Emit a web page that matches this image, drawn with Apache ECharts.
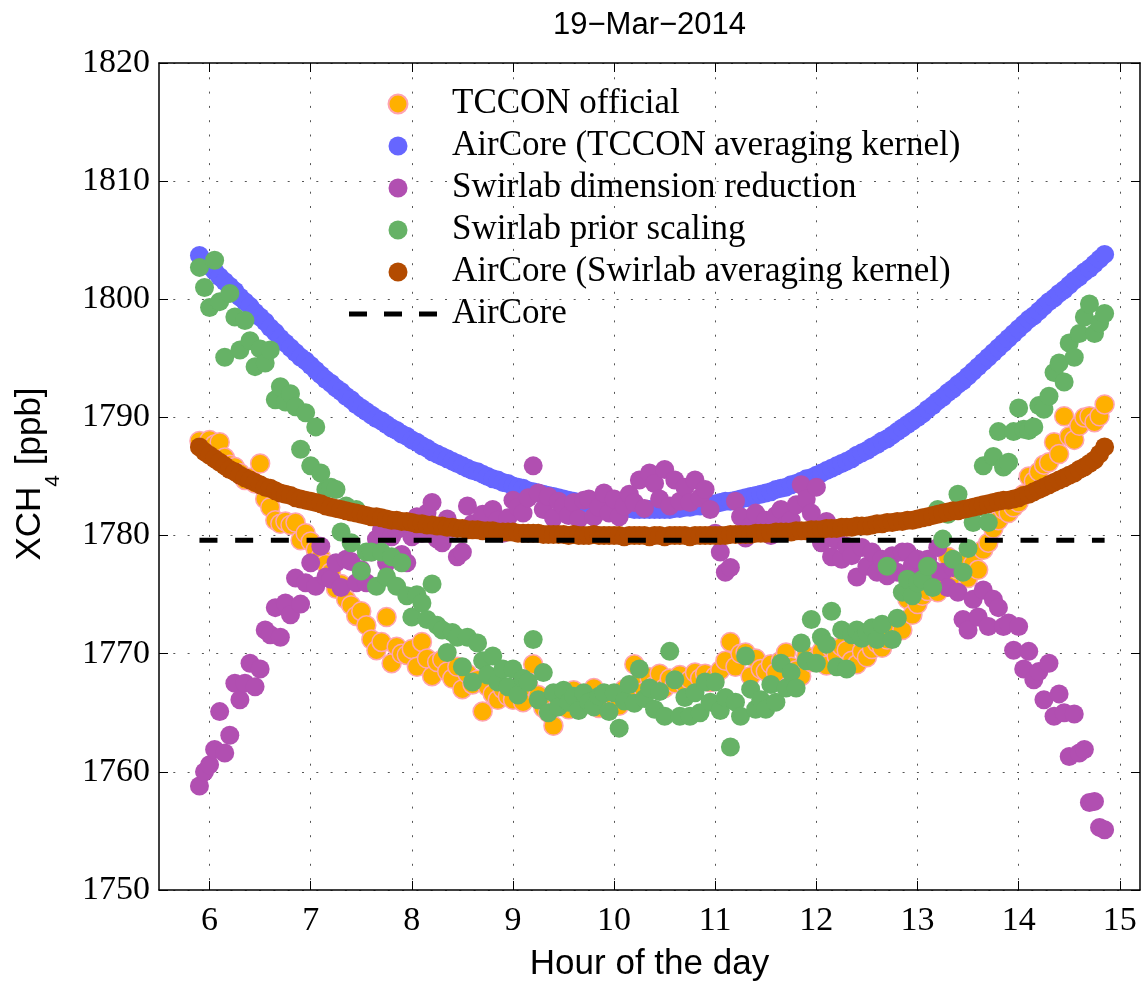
<!DOCTYPE html>
<html>
<head>
<meta charset="utf-8">
<title>19−Mar−2014 XCH4</title>
<script src="https://cdn.jsdelivr.net/npm/echarts@6/dist/echarts.min.js"></script>
<style>
  html, body { margin: 0; padding: 0; background: #fff; }
  #chart { width: 1144px; height: 985px; }
</style>
</head>
<body>
<div id="chart"></div>
<script>
// Measurement times (hour of the day), one row per half hour
const hours = [
  5.90, 5.95, 6.00, 6.05, 6.10, 6.15, 6.20, 6.25, 6.30, 6.35,
  6.40, 6.45, 6.50, 6.55, 6.60, 6.65, 6.70, 6.75, 6.80, 6.85,
  6.90, 6.95, 7.00, 7.05, 7.10, 7.15, 7.20, 7.25, 7.30, 7.35,
  7.40, 7.45, 7.50, 7.55, 7.60, 7.65, 7.70, 7.75, 7.80, 7.85,
  7.90, 7.95, 8.00, 8.05, 8.10, 8.15, 8.20, 8.25, 8.30, 8.35,
  8.40, 8.45, 8.50, 8.55, 8.60, 8.65, 8.70, 8.75, 8.80, 8.85,
  8.90, 8.95, 9.00, 9.05, 9.10, 9.15, 9.20, 9.25, 9.30, 9.35,
  9.40, 9.45, 9.50, 9.55, 9.60, 9.65, 9.70, 9.75, 9.80, 9.85,
  9.90, 9.95, 10.00, 10.05, 10.10, 10.15, 10.20, 10.25, 10.30, 10.35,
  10.40, 10.45, 10.50, 10.55, 10.60, 10.65, 10.70, 10.75, 10.80, 10.85,
  10.90, 10.95, 11.00, 11.05, 11.10, 11.15, 11.20, 11.25, 11.30, 11.35,
  11.40, 11.45, 11.50, 11.55, 11.60, 11.65, 11.70, 11.75, 11.80, 11.85,
  11.90, 11.95, 12.00, 12.05, 12.10, 12.15, 12.20, 12.25, 12.30, 12.35,
  12.40, 12.45, 12.50, 12.55, 12.60, 12.65, 12.70, 12.75, 12.80, 12.85,
  12.90, 12.95, 13.00, 13.05, 13.10, 13.15, 13.20, 13.25, 13.30, 13.35,
  13.40, 13.45, 13.50, 13.55, 13.60, 13.65, 13.70, 13.75, 13.80, 13.85,
  13.90, 13.95, 14.00, 14.05, 14.10, 14.15, 14.20, 14.25, 14.30, 14.35,
  14.40, 14.45, 14.50, 14.55, 14.60, 14.65, 14.70, 14.75, 14.80, 14.85
];

// XCH4 [ppb] per retrieval / smoothing
const tcconOfficial = [
  1788.0, 1787.6, 1788.1, 1787.7, 1787.9, 1786.6, 1786.0, 1785.8, 1785.3, 1784.7,
  1784.9, 1784.4, 1786.1, 1783.1, 1782.4, 1781.3, 1781.0, 1781.2, 1780.9, 1781.1,
  1779.6, 1780.2, 1779.5, 1778.8, 1778.2, 1777.6, 1776.9, 1775.5, 1775.9, 1774.6,
  1774.1, 1773.2, 1773.6, 1772.4, 1771.2, 1770.3, 1771.0, 1773.1, 1769.2, 1770.6,
  1770.0, 1769.9, 1770.4, 1768.9, 1771.0, 1769.6, 1768.1, 1769.3, 1769.5, 1768.5,
  1767.9, 1768.9, 1767.0, 1768.3, 1767.4, 1767.8, 1765.1, 1767.2, 1766.6, 1766.1,
  1767.0, 1766.4, 1766.1, 1766.8, 1765.9, 1767.3, 1769.1, 1766.5, 1765.4, 1765.0,
  1763.9, 1765.6, 1766.2, 1765.3, 1766.9, 1765.5, 1766.4, 1765.9, 1767.1, 1765.4,
  1766.6, 1765.8, 1766.3, 1765.6, 1767.0, 1766.4, 1769.1, 1767.6, 1766.8, 1768.0,
  1767.3, 1768.3, 1767.1, 1767.9, 1767.5, 1768.2, 1767.4, 1767.8, 1768.4, 1767.9,
  1768.3, 1767.6, 1768.1, 1768.6, 1769.4, 1771.0, 1768.9, 1770.0, 1770.1, 1768.1,
  1769.6, 1768.7, 1768.5, 1769.1, 1768.4, 1769.4, 1770.1, 1768.9, 1768.6, 1768.1,
  1769.8, 1769.3, 1769.6, 1770.2, 1769.0, 1770.5, 1769.8, 1770.6, 1770.3, 1769.4,
  1769.1, 1770.2, 1769.7, 1770.4, 1770.9, 1770.5, 1771.2, 1771.6, 1771.9, 1772.0,
  1774.6, 1773.3, 1774.2, 1774.9, 1775.3, 1775.8, 1775.2, 1776.0, 1778.2, 1776.6,
  1777.1, 1777.8, 1776.4, 1777.6, 1777.1, 1778.8, 1779.4, 1780.6, 1781.3, 1782.2,
  1781.9, 1782.4, 1782.8, 1783.5, 1785.0, 1784.6, 1785.4, 1786.0, 1786.2, 1787.9,
  1786.9, 1790.1, 1788.4, 1788.1, 1789.3, 1790.0, 1790.1, 1789.6, 1790.1, 1791.1
];

const airCoreTcconAk = [
  1803.7, 1803.2, 1802.8, 1802.4, 1801.9, 1801.5, 1801.1, 1800.7, 1800.2, 1799.8,
  1799.4, 1798.9, 1798.5, 1798.1, 1797.6, 1797.2, 1796.7, 1796.3, 1795.9, 1795.5,
  1795.1, 1794.8, 1794.4, 1794.0, 1793.6, 1793.2, 1792.9, 1792.5, 1792.2, 1791.8,
  1791.5, 1791.1, 1790.8, 1790.5, 1790.2, 1789.9, 1789.7, 1789.4, 1789.1, 1788.9,
  1788.6, 1788.4, 1788.1, 1787.9, 1787.6, 1787.4, 1787.1, 1786.9, 1786.7, 1786.5,
  1786.3, 1786.1, 1785.9, 1785.7, 1785.5, 1785.4, 1785.2, 1785.0, 1784.8, 1784.7,
  1784.5, 1784.4, 1784.2, 1784.1, 1784.0, 1783.8, 1783.7, 1783.6, 1783.5, 1783.4,
  1783.3, 1783.2, 1783.1, 1783.0, 1782.9, 1782.8, 1782.8, 1782.7, 1782.6, 1782.6,
  1782.5, 1782.5, 1782.4, 1782.4, 1782.3, 1782.3, 1782.2, 1782.2, 1782.2, 1782.2,
  1782.2, 1782.2, 1782.2, 1782.2, 1782.3, 1782.3, 1782.4, 1782.4, 1782.5, 1782.5,
  1782.6, 1782.6, 1782.7, 1782.8, 1782.9, 1782.9, 1783.0, 1783.1, 1783.2, 1783.3,
  1783.4, 1783.5, 1783.6, 1783.7, 1783.9, 1784.0, 1784.1, 1784.3, 1784.4, 1784.6,
  1784.8, 1784.9, 1785.1, 1785.3, 1785.5, 1785.7, 1785.9, 1786.1, 1786.3, 1786.5,
  1786.8, 1787.0, 1787.2, 1787.5, 1787.7, 1788.0, 1788.2, 1788.5, 1788.8, 1789.1,
  1789.4, 1789.7, 1790.0, 1790.3, 1790.7, 1791.0, 1791.4, 1791.7, 1792.1, 1792.4,
  1792.8, 1793.1, 1793.5, 1793.9, 1794.3, 1794.7, 1795.1, 1795.5, 1795.9, 1796.3,
  1796.7, 1797.1, 1797.5, 1797.9, 1798.3, 1798.6, 1799.0, 1799.4, 1799.8, 1800.1,
  1800.5, 1800.8, 1801.2, 1801.6, 1801.9, 1802.3, 1802.6, 1803.0, 1803.4, 1803.8
];

const swirlabDimReduction = [
  1758.8, 1760.0, 1760.6, 1761.9, 1765.1, 1761.6, 1763.1, 1767.5, 1766.1, 1767.5,
  1769.2, 1767.2, 1768.7, 1772.0, 1771.6, 1773.9, 1771.4, 1774.3, 1773.3, 1776.4,
  1774.2, 1776.0, 1777.7, 1775.7, 1779.1, 1776.5, 1776.3, 1777.7, 1775.6, 1778.0,
  1777.8, 1776.0, 1777.1, 1776.0, 1778.6, 1779.7, 1780.5, 1777.7, 1779.9, 1780.5,
  1778.4, 1777.7, 1779.9, 1781.6, 1780.2, 1781.9, 1782.8, 1779.7, 1779.4, 1781.4,
  1780.6, 1778.2, 1778.6, 1782.5, 1781.0, 1780.6, 1781.8, 1780.4, 1782.2, 1781.3,
  1780.2, 1781.5, 1783.0, 1782.4, 1781.9, 1783.2, 1785.9, 1783.6, 1782.2, 1783.3,
  1781.5, 1782.9, 1782.5, 1781.7, 1782.8, 1781.4, 1783.0, 1783.1, 1781.6, 1782.4,
  1783.6, 1781.9, 1783.1, 1781.6, 1782.5, 1783.5, 1782.8, 1784.7, 1782.3, 1785.3,
  1784.4, 1783.1, 1785.6, 1782.5, 1784.7, 1782.9, 1784.1, 1782.8, 1784.7, 1783.2,
  1783.9, 1782.2, 1780.2, 1778.6, 1776.9, 1777.3, 1782.9, 1781.6, 1779.8, 1780.8,
  1781.9, 1780.4, 1781.3, 1780.0, 1781.7, 1782.2, 1780.9, 1781.3, 1782.6, 1784.3,
  1783.1, 1781.9, 1784.1, 1779.4, 1781.2, 1778.2, 1779.6, 1778.0, 1779.1, 1778.3,
  1776.5, 1779.0, 1777.4, 1778.6, 1776.9, 1778.0, 1776.6, 1778.3, 1776.9, 1778.6,
  1778.6, 1777.5, 1778.0, 1776.3, 1778.0, 1777.1, 1779.0, 1776.9, 1775.6, 1777.3,
  1775.2, 1772.9, 1772.0, 1774.6, 1773.1, 1775.4, 1772.3, 1774.6, 1773.9, 1772.3,
  1772.6, 1770.3, 1772.3, 1768.7, 1770.2, 1767.8, 1768.5, 1766.1, 1769.2, 1764.7,
  1766.6, 1765.0, 1761.3, 1764.9, 1761.6, 1761.9, 1757.4, 1757.5, 1755.3, 1755.1
];

const swirlabPriorScaling = [
  1802.7, 1801.0, 1799.3, 1803.3, 1799.8, 1795.1, 1800.5, 1798.5, 1795.7, 1798.2,
  1796.5, 1794.3, 1795.8, 1794.6, 1795.7, 1791.5, 1792.6, 1791.3, 1792.0, 1790.9,
  1787.3, 1790.4, 1785.9, 1789.2, 1785.3, 1783.9, 1784.1, 1783.9, 1780.3, 1782.5,
  1779.4, 1782.2, 1777.0, 1778.6, 1778.6, 1775.7, 1778.6, 1776.5, 1778.2, 1775.7,
  1777.7, 1774.9, 1773.1, 1775.0, 1774.3, 1772.9, 1775.9, 1772.4, 1772.0, 1770.1,
  1771.8, 1771.4, 1768.9, 1771.4, 1767.6, 1770.9, 1769.4, 1768.2, 1769.8, 1767.6,
  1768.7, 1767.2, 1768.7, 1766.5, 1767.9, 1767.6, 1771.2, 1766.1, 1768.4, 1765.0,
  1766.7, 1765.5, 1766.9, 1765.9, 1766.4, 1765.2, 1766.7, 1765.9, 1765.5, 1766.4,
  1766.7, 1765.1, 1766.7, 1763.7, 1766.0, 1767.4, 1765.8, 1768.7, 1766.2, 1767.1,
  1765.3, 1766.8, 1764.7, 1770.2, 1767.8, 1764.7, 1766.3, 1764.7, 1766.7, 1765.0,
  1767.6, 1765.9, 1767.6, 1765.2, 1766.3, 1762.1, 1765.9, 1764.7, 1769.8, 1767.0,
  1765.3, 1766.1, 1765.3, 1767.4, 1765.9, 1769.2, 1767.1, 1768.4, 1767.1, 1770.9,
  1769.4, 1772.9, 1769.2, 1771.4, 1770.8, 1773.6, 1768.9, 1772.0, 1768.7, 1771.6,
  1772.0, 1771.3, 1771.8, 1772.2, 1771.2, 1772.5, 1777.4, 1771.2, 1773.0, 1775.2,
  1776.3, 1774.9, 1776.0, 1776.3, 1777.4, 1775.6, 1782.2, 1779.7, 1781.8, 1778.0,
  1783.5, 1776.9, 1778.9, 1781.1, 1782.4, 1785.9, 1781.1, 1786.7, 1788.8, 1785.8,
  1786.2, 1788.8, 1790.8, 1789.0, 1788.9, 1789.2, 1791.0, 1790.7, 1791.8, 1793.8,
  1794.6, 1793.0, 1796.3, 1795.1, 1797.1, 1798.5, 1799.6, 1797.1, 1798.0, 1798.8
];

const airCoreSwirlabAk = [
  1787.5, 1787.1, 1786.8, 1786.5, 1786.2, 1785.9, 1785.6, 1785.4, 1785.1, 1784.9,
  1784.7, 1784.5, 1784.3, 1784.1, 1784.0, 1783.8, 1783.6, 1783.5, 1783.4, 1783.2,
  1783.1, 1783.0, 1782.9, 1782.8, 1782.7, 1782.5, 1782.4, 1782.3, 1782.2, 1782.1,
  1782.0, 1781.9, 1781.8, 1781.7, 1781.6, 1781.6, 1781.5, 1781.4, 1781.3, 1781.3,
  1781.2, 1781.2, 1781.1, 1781.0, 1781.0, 1780.9, 1780.9, 1780.8, 1780.8, 1780.7,
  1780.7, 1780.6, 1780.6, 1780.5, 1780.5, 1780.5, 1780.4, 1780.4, 1780.4, 1780.3,
  1780.3, 1780.3, 1780.3, 1780.2, 1780.2, 1780.2, 1780.2, 1780.2, 1780.1, 1780.1,
  1780.1, 1780.1, 1780.1, 1780.0, 1780.1, 1780.0, 1780.0, 1780.0, 1780.1, 1780.0,
  1780.0, 1780.0, 1780.0, 1780.0, 1779.9, 1780.0, 1780.0, 1780.0, 1780.0, 1779.9,
  1780.0, 1780.0, 1779.9, 1780.0, 1780.0, 1780.0, 1780.0, 1779.9, 1780.0, 1780.0,
  1780.0, 1780.0, 1780.0, 1780.0, 1780.0, 1780.1, 1780.1, 1780.1, 1780.1, 1780.1,
  1780.2, 1780.2, 1780.2, 1780.2, 1780.3, 1780.3, 1780.3, 1780.3, 1780.4, 1780.4,
  1780.4, 1780.5, 1780.5, 1780.5, 1780.6, 1780.6, 1780.6, 1780.7, 1780.7, 1780.7,
  1780.8, 1780.8, 1780.8, 1780.9, 1781.0, 1781.0, 1781.1, 1781.1, 1781.2, 1781.2,
  1781.3, 1781.3, 1781.4, 1781.5, 1781.6, 1781.7, 1781.8, 1781.9, 1782.0, 1782.1,
  1782.1, 1782.2, 1782.3, 1782.4, 1782.5, 1782.6, 1782.7, 1782.8, 1782.9, 1783.0,
  1783.0, 1783.1, 1783.2, 1783.4, 1783.5, 1783.7, 1783.9, 1784.1, 1784.3, 1784.5,
  1784.7, 1784.9, 1785.1, 1785.3, 1785.6, 1785.8, 1786.1, 1786.4, 1786.9, 1787.5
];

// Raw AirCore column value, constant over the day
const airCoreXch4 = 1779.6;

const seriesNames = [
  'TCCON official',
  'AirCore (TCCON averaging kernel)',
  'Swirlab dimension reduction',
  'Swirlab prior scaling',
  'AirCore (Swirlab averaging kernel)',
  'AirCore'
];

const xTicks = [6, 7, 8, 9, 10, 11, 12, 13, 14, 15];
const yTicks = [1750, 1760, 1770, 1780, 1790, 1800, 1810, 1820];

const pair = arr => hours.map((h, i) => [h, arr[i]]);

const SERIF = "'Liberation Serif', 'Times New Roman', serif";
const SANS = "'Liberation Sans', Arial, Helvetica, sans-serif";

const gridLine = { show: true, lineStyle: { color: '#555', width: 1, type: [2, 12.3] } };
const frameLine = { show: true, onZero: false, lineStyle: { color: '#000', width: 1.5 } };

// Legend key for the dashed reference line: three dashes, the trailing
// zero-area segment keeps the key as wide as the other legend keys
const dashedKey = 'path://M0,0L18,0L18,5L0,5Z M35,0L53,0L53,5L35,5Z M70,0L88,0L88,5L70,5Z M98,0L98,5';

function scatter(name, values, color, extra) {
  return Object.assign({
    name: name,
    type: 'scatter',
    xAxisIndex: 0,
    yAxisIndex: 0,
    data: pair(values),
    symbol: 'circle',
    symbolSize: 19,
    itemStyle: { color: color, opacity: 1 },
    emphasis: { disabled: true },
    animation: false
  }, extra || {});
}

const chart = echarts.init(document.getElementById('chart'), null, { renderer: 'canvas' });

chart.setOption({
  backgroundColor: '#fff',
  animation: false,
  grid: { left: 159, right: 4, top: 63, bottom: 95, containLabel: false },
  xAxis: [
    {
      type: 'value', position: 'bottom', min: 5.5, max: 15.2,
      axisLine: frameLine,
      axisTick: { show: true, inside: true, length: 9, customValues: xTicks, lineStyle: { color: '#000', width: 1 } },
      axisLabel: { customValues: xTicks, margin: 14, color: '#000', fontFamily: SERIF, fontSize: 34,
                   formatter: v => String(v) },
      splitLine: gridLine
    },
    {
      type: 'value', position: 'top', min: 5.5, max: 15.2,
      axisLine: frameLine,
      axisTick: { show: true, inside: true, length: 9, customValues: xTicks, lineStyle: { color: '#000', width: 1 } },
      axisLabel: { show: false },
      splitLine: { show: false }
    }
  ],
  yAxis: [
    {
      type: 'value', position: 'left', min: yTicks[0], max: yTicks[yTicks.length - 1], interval: 10,
      axisLine: frameLine,
      axisTick: { show: true, inside: true, length: 9, lineStyle: { color: '#000', width: 1 } },
      axisLabel: { margin: 9, color: '#000', fontFamily: SERIF, fontSize: 34, formatter: v => String(v) },
      splitLine: gridLine
    },
    {
      type: 'value', position: 'right', min: yTicks[0], max: yTicks[yTicks.length - 1], interval: 10,
      axisLine: frameLine,
      axisTick: { show: true, inside: true, length: 9, lineStyle: { color: '#000', width: 1 } },
      axisLabel: { show: false },
      splitLine: { show: false }
    }
  ],
  legend: {
    data: seriesNames.map((n, i) => i === 5 ? { name: n, icon: dashedKey } : { name: n }),
    orient: 'vertical',
    left: 349,
    top: 83,
    padding: 0,
    itemGap: 0,
    itemWidth: 98,
    itemHeight: 19,
    selectedMode: false,
    textStyle: { fontFamily: SERIF, fontSize: 35, color: '#000', lineHeight: 42 }
  },
  graphic: [
    {
      type: 'text', x: 649.5, y: 25, silent: true,
      style: { text: '19−Mar−2014', fontFamily: SANS, fontSize: 31, fill: '#000', align: 'center', verticalAlign: 'middle' }
    },
    {
      type: 'text', x: 649.5, y: 964, silent: true,
      style: { text: 'Hour of the day', fontFamily: SANS, fontSize: 35, fill: '#000', align: 'center', verticalAlign: 'middle' }
    },
    {
      type: 'text', x: 38, y: 474, rotation: Math.PI / 2, silent: true,
      style: {
        text: '{n|XCH}{s|4}{n| [ppb]}',
        align: 'center', verticalAlign: 'middle', fill: '#000',
        rich: {
          n: { fontFamily: SANS, fontSize: 35, lineHeight: 35, verticalAlign: 'top', fill: '#000' },
          s: { fontFamily: SANS, fontSize: 21, lineHeight: 51, verticalAlign: 'bottom', fill: '#000' }
        }
      }
    }
  ],
  series: [
    scatter(seriesNames[0], tcconOfficial, '#FFB000', {
      itemStyle: { color: '#FFB000', borderColor: '#FFA3B1', borderWidth: 1.5, opacity: 1 }
    }),
    scatter(seriesNames[1], airCoreTcconAk, '#6666FF'),
    scatter(seriesNames[2], swirlabDimReduction, '#B14FB1'),
    scatter(seriesNames[3], swirlabPriorScaling, '#66B266'),
    scatter(seriesNames[4], airCoreSwirlabAk, '#B34B00'),
    {
      name: seriesNames[5],
      type: 'line',
      data: [[hours[0], airCoreXch4], [hours[hours.length - 1], airCoreXch4]],
      symbol: 'none',
      showSymbol: false,
      lineStyle: { color: '#000', width: 5, type: [18, 17.7] },
      itemStyle: { color: '#000' },
      emphasis: { disabled: true },
      animation: false,
      z: 3
    }
  ]
});
</script>
</body>
</html>
